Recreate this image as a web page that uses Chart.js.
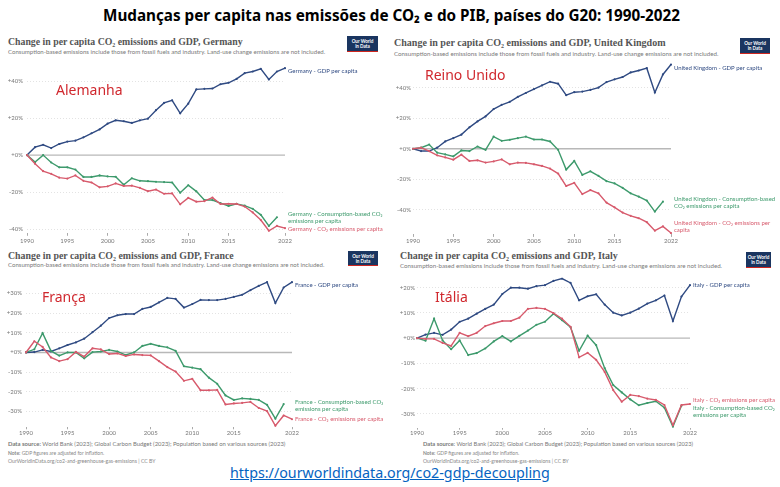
<!DOCTYPE html>
<html>
<head>
<meta charset="utf-8">
<script src="https://cdn.jsdelivr.net/npm/chart.js@4.4.1/dist/chart.umd.min.js"></script>
<style>
  body { margin: 0; background: #fff; }
  #wrap { position: relative; width: 780px; height: 487px; overflow: hidden; background: #fff; }
  .abs { position: absolute; white-space: nowrap; line-height: 1; }
  .main { font-family: "Noto Sans", sans-serif; font-weight: bold; font-size: 18px; color: #000; }
  .ptitle { font-family: "Liberation Serif", serif; font-weight: bold; font-size: 10px; color: #555; }
  .psub { font-family: Lato, sans-serif; font-size: 6px; color: #7a7a7a; }
  .logo { background: #1a3560; color: #fff; font-family: Lato, sans-serif; font-weight: bold;
          font-size: 4.6px; text-align: center; line-height: 1.1; border-bottom: 1.5px solid #ce261e;
          box-sizing: border-box; padding-top: 3px; }
  .country { font-family: "Noto Sans", sans-serif; font-size: 14px; color: #d0282e; }
  .src { font-family: Lato, sans-serif; font-size: 5.8px; color: #777; }
  .note { font-family: Lato, sans-serif; font-size: 5px; color: #888; }
  .url { font-family: "Noto Sans", sans-serif; font-size: 15px; color: #0563c1; text-decoration: underline; }
  canvas { position: absolute; }
</style>
</head>
<body>
<div id="wrap">
  <div class="abs main" id="mainTitle" style="left:103px; top:8px;">Mudanças per capita nas emissões de CO₂ e do PIB, países do G20: 1990-2022</div>

  <div class="abs ptitle" data-w="235" style="left:8px; top:37px;">Change in per capita CO₂ emissions and GDP, Germany</div>
  <div class="abs psub" data-w="318" style="left:8px; top:49px;">Consumption-based emissions include those from fossil fuels and industry. Land-use change emissions are not included.</div>
  <div class="abs logo" style="left:347px; top:36px; width:31px; height:16px;">Our World<br>in Data</div>

  <div class="abs ptitle" data-w="272" style="left:394px; top:38px;">Change in per capita CO₂ emissions and GDP, United Kingdom</div>
  <div class="abs psub" data-w="325" style="left:394px; top:51px;">Consumption-based emissions include those from fossil fuels and industry. Land-use change emissions are not included.</div>
  <div class="abs logo" style="left:740px; top:38px; width:30px; height:16px;">Our World<br>in Data</div>

  <div class="abs ptitle" data-w="226" style="left:8px; top:251px;">Change in per capita CO₂ emissions and GDP, France</div>
  <div class="abs psub" data-w="317" style="left:8px; top:262px;">Consumption-based emissions include those from fossil fuels and industry. Land-use change emissions are not included.</div>
  <div class="abs logo" style="left:348px; top:251px; width:30px; height:15px;">Our World<br>in Data</div>

  <div class="abs ptitle" data-w="218" style="left:400px; top:251px;">Change in per capita CO₂ emissions and GDP, Italy</div>
  <div class="abs psub" data-w="323" style="left:400px; top:263px;">Consumption-based emissions include those from fossil fuels and industry. Land-use change emissions are not included.</div>
  <div class="abs logo" style="left:746px; top:252px; width:25px; height:16px;">Our World<br>in Data</div>

  <canvas id="de" width="388" height="195" style="left:0px; top:55px;"></canvas>
  <canvas id="uk" width="390" height="195" style="left:390px; top:55px;"></canvas>
  <canvas id="fr" width="388" height="166" style="left:0px; top:272px;"></canvas>
  <canvas id="it" width="390" height="166" style="left:390px; top:272px;"></canvas>

  <div class="abs country" style="left:56px; top:83px;">Alemanha</div>
  <div class="abs country" style="left:425px; top:68px;">Reino Unido</div>
  <div class="abs country" style="left:42px; top:290px;">França</div>
  <div class="abs country" style="left:435px; top:290px;">Itália</div>

  <div class="abs src" data-w="278" style="left:8px; top:441px;"><b>Data source:</b> World Bank (2023); Global Carbon Budget (2023); Population based on various sources (2023)</div>
  <div class="abs note" style="left:8px; top:451px;"><b>Note:</b> GDP figures are adjusted for inflation.</div>
  <div class="abs note" data-w="148" style="left:8px; top:459px;">OurWorldInData.org/co2-and-greenhouse-gas-emissions | CC BY</div>

  <div class="abs src" data-w="270" style="left:423px; top:441px;"><b>Data source:</b> World Bank (2023); Global Carbon Budget (2023); Population based on various sources (2023)</div>
  <div class="abs note" style="left:423px; top:451px;"><b>Note:</b> GDP figures are adjusted for inflation.</div>
  <div class="abs note" data-w="146" style="left:423px; top:459px;">OurWorldInData.org/co2-and-greenhouse-gas-emissions | CC BY</div>

  <div class="abs url" id="url" style="left:230px; top:466px;">https://ourworldindata.org/co2-gdp-decoupling</div>
</div>

<script>
// years shared by all four panels
const years = [1990, 1991, 1992, 1993, 1994, 1995, 1996, 1997, 1998, 1999,
               2000, 2001, 2002, 2003, 2004, 2005, 2006, 2007, 2008, 2009,
               2010, 2011, 2012, 2013, 2014, 2015, 2016, 2017, 2018, 2019,
               2020, 2021, 2022];
const yearTicks = [1990, 1995, 2000, 2005, 2010, 2015, 2022];

// % change since 1990
const deGdp  = [0, 4.3, 5.6, 3.8, 6.0, 7.3, 7.8, 9.6, 11.8, 13.9, 17.0, 18.8, 18.3, 17.4, 18.8, 19.7, 24.3, 28.2, 29.6, 22.6, 27.8, 35.5, 35.8, 36.0, 38.3, 39.1, 41.2, 44.3, 45.2, 46.6, 40.9, 45.2, 47.0];
const deCons = [0, -3.8, 0, -4.0, -6.6, -6.6, -7.8, -11.8, -11.8, -11.0, -11.5, -11.7, -16.0, -12.5, -13.9, -14.1, -14.4, -14.6, -14.8, -20.3, -16.3, -19.6, -24.3, -24.3, -26.0, -27.5, -26.4, -27.3, -29.0, -32.3, -38.3, -33.6, null];
const deCo2  = [0, -4.7, -8.7, -10.1, -12.2, -12.7, -11.0, -13.9, -14.8, -17.4, -16.9, -15.3, -16.7, -16.5, -17.7, -19.5, -18.6, -20.9, -20.7, -26.6, -23.1, -25.2, -24.9, -23.0, -26.4, -26.3, -26.4, -27.8, -31.0, -35.1, -40.9, -38.3, -39.5];

const ukGdp  = [0, -1.5, -1.5, 0.7, 4.8, 7.0, 9.3, 14.1, 18.0, 21.3, 26.1, 28.9, 30.9, 34.1, 36.7, 39.3, 41.7, 44.1, 42.8, 35.2, 37.2, 37.6, 38.7, 40.2, 43.9, 45.7, 47.2, 50.2, 51.5, 53.0, 37.0, 48.9, 55.4];
const ukCons = [0, 0.7, 2.8, -2.6, -3.7, -5.0, -1.1, -1.5, 1.5, -0.7, 8.0, 5.2, 5.9, 7.0, 8.0, 6.1, 6.1, 4.8, -0.7, -13.7, -8.0, -17.2, -14.8, -17.8, -21.3, -22.8, -25.7, -29.3, -31.5, -34.1, -41.3, -34.8, null];
const ukCo2  = [0, 0.7, -1.5, -4.3, -5.7, -7.2, -3.9, -8.0, -7.6, -9.1, -8.3, -7.0, -10.2, -9.1, -9.3, -10.2, -11.3, -13.0, -16.3, -24.5, -22.4, -29.8, -27.2, -29.3, -35.4, -38.5, -42.0, -44.1, -45.7, -48.3, -53.9, -51.1, -55.4];

const frGdp  = [0, 0.2, 1.3, 0.5, 2.1, 3.8, 5.1, 7.0, 10.3, 13.6, 17.5, 18.9, 19.5, 19.5, 22.1, 23.1, 25.4, 27.7, 27.2, 22.8, 24.6, 26.7, 26.6, 26.6, 27.2, 28.2, 29.3, 31.6, 33.8, 35.7, 25.1, 33.0, 35.7];
const frCons = [0, 1.6, 9.8, 0.8, -1.6, 0, 0, -3.0, 0.2, 0.5, 1.3, 0.5, -1.3, 0, 3.3, 4.4, 3.3, 2.6, 0.8, -7.0, -7.7, -8.5, -12.8, -15.9, -21.8, -24.1, -23.3, -23.6, -24.1, -26.6, -33.6, -26.2, null];
const frCo2  = [0, 5.7, 2.8, -2.5, -4.4, -3.4, 0.3, -2.1, 2.1, 1.6, -0.8, -0.5, -1.8, -1.0, -1.3, -1.5, -4.4, -7.4, -9.7, -14.4, -13.4, -19.2, -19.2, -19.0, -26.4, -25.9, -25.6, -25.1, -28.2, -29.8, -37.2, -32.0, -33.9];

const itGdp  = [0, 1.4, 2.1, 1.3, 3.4, 6.5, 7.7, 9.7, 11.6, 13.3, 17.5, 20.0, 20.0, 19.6, 20.6, 21.0, 22.7, 23.6, 21.9, 15.0, 16.6, 17.4, 13.3, 10.1, 9.0, 10.1, 11.7, 13.7, 15.0, 16.9, 6.8, 16.5, 21.0];
const itCons = [0, -1.0, 7.7, -0.9, -4.4, -0.9, -6.7, -5.9, -4.1, -1.3, 0.8, -1.3, 0.9, 3.0, 5.3, 6.5, 9.7, 7.1, 4.3, -5.0, 1.0, -2.8, -11.9, -18.6, -21.5, -24.3, -26.6, -25.7, -25.0, -27.6, -35.1, -26.8, null];
const itCo2  = [0, -0.3, -0.3, -1.9, -3.1, 2.1, 0.8, 2.1, 4.8, 5.9, 6.8, 6.8, 8.1, 11.6, 12.0, 11.6, 9.9, 7.7, 4.5, -7.6, -5.8, -8.6, -13.4, -20.6, -25.2, -22.5, -23.0, -24.0, -24.5, -26.5, -34.5, -26.5, -26.1];

const ticks20 = [-40, -20, 0, 20, 40];
const ticksUk = [-40, -20, 0, 20, 40];
const ticksFr = [-30, -20, -10, 0, 10, 20, 30];
const ticksIt = [-30, -20, -10, 0, 10, 20];

const BLUE = '#2f4a82';
const GREEN = '#3d9a6c';
const RED = '#d75a6c';

// zero line drawn solid over the dotted grid
const zeroLine = {
    id: 'zeroLine',
    beforeDatasetsDraw(chart) {
        const { ctx, chartArea, scales } = chart;
        const y = scales.y.getPixelForValue(0);
        ctx.save();
        ctx.strokeStyle = '#b8b8b8';
        ctx.lineWidth = 1.4;
        ctx.beginPath();
        ctx.moveTo(chartArea.left, y);
        ctx.lineTo(chartArea.right, y);
        ctx.stroke();
        ctx.restore();
    }
};

// series names written at the end of each line
const endLabels = {
    id: 'endLabels',
    afterDatasetsDraw(chart) {
        const { ctx, chartArea } = chart;
        ctx.save();
        ctx.font = '6px Lato';
        ctx.textBaseline = 'middle';
        chart.data.datasets.forEach((ds, i) => {
            const meta = chart.getDatasetMeta(i);
            let last = null;
            meta.data.forEach((pt, j) => { if (ds.data[j] !== null) last = pt; });
            if (!last) return;
            ctx.fillStyle = ds.borderColor;
            ds.endLabel.forEach((line, k) => {
                ctx.fillText(line, chartArea.right + 3, last.y + ds.labelDy + k * 7);
            });
        });
        ctx.restore();
    }
};

function series(data, color, endLabel, labelDy) {
    return {
        data: data,
        borderColor: color,
        backgroundColor: color,
        borderWidth: 1.4,
        pointRadius: 1.1,
        pointHoverRadius: 1.1,
        pointBorderWidth: 0,
        tension: 0,
        spanGaps: false,
        endLabel: endLabel,
        labelDy: labelDy
    };
}

function makeChart(id, opts) {
    const ctx = document.getElementById(id).getContext('2d');
    return new Chart(ctx, {
        type: 'line',
        data: { labels: years, datasets: opts.datasets },
        options: {
            responsive: false,
            animation: false,
            devicePixelRatio: 1,
            layout: { padding: { top: opts.padTop, right: opts.padRight, left: 0, bottom: 0 } },
            plugins: { legend: { display: false }, tooltip: { enabled: false } },
            scales: {
                x: {
                    offset: false,
                    border: { display: false },
                    grid: {
                        drawOnChartArea: false,
                        drawTicks: true,
                        tickLength: opts.tickLen,
                        tickColor: c => yearTicks.includes(years[c.index]) ? '#aaa' : 'rgba(0,0,0,0)'
                    },
                    ticks: {
                        autoSkip: false,
                        maxRotation: 0,
                        padding: opts.xPad,
                        color: '#777',
                        font: { family: 'Lato', size: 6 },
                        callback: (v, i) => yearTicks.includes(years[i]) ? String(years[i]) : ''
                    },
                    afterFit: s => { s.height = opts.xHeight; }
                },
                y: {
                    min: opts.min,
                    max: opts.max,
                    border: { display: false, dash: [1, 2] },
                    grid: {
                        drawTicks: false,
                        color: c => c.tick && c.tick.value === 0 ? 'rgba(0,0,0,0)' : '#dcdcdc',
                        lineWidth: 0.8
                    },
                    ticks: {
                        padding: opts.yPad,
                        color: '#777',
                        font: { family: 'Lato', size: 6 },
                        callback: v => (v >= 0 ? '+' : '') + v + '%'
                    },
                    afterBuildTicks: s => { s.ticks = opts.ticks.map(v => ({ value: v })); },
                    afterFit: s => { s.width = opts.yWidth; }
                }
            }
        },
        plugins: [zeroLine, endLabels]
    });
}

makeChart('de', {
    min: -42, max: 50, ticks: ticks20,
    padTop: 3, padRight: 103, yWidth: 27, yPad: 4, xHeight: 17.2, tickLen: 3, xPad: 2,
    datasets: [
        series(deCo2, RED, ['Germany - CO₂ emissions per capita'], 1),
        series(deCons, GREEN, ['Germany - Consumption-based CO₂', 'emissions per capita'], -3),
        series(deGdp, BLUE, ['Germany - GDP per capita'], 3)
    ]
});

makeChart('uk', {
    min: -56, max: 58, ticks: ticksUk,
    padTop: 4.1, padRight: 109, yWidth: 23, yPad: 2, xHeight: 16.1, tickLen: 3, xPad: 1,
    datasets: [
        series(ukCo2, RED, ['United Kingdom - CO₂ emissions per', 'capita'], -10),
        series(ukCons, GREEN, ['United Kingdom - Consumption-based', 'CO₂ emissions per capita'], -3),
        series(ukGdp, BLUE, ['United Kingdom - GDP per capita'], 4)
    ]
});

makeChart('fr', {
    min: -38, max: 37, ticks: ticksFr,
    padTop: 2.8, padRight: 96, yWidth: 26, yPad: 4, xHeight: 10.7, tickLen: 2, xPad: 0,
    datasets: [
        series(frCo2, RED, ['France - CO₂ emissions per capita'], 0),
        series(frCons, GREEN, ['France - Consumption-based CO₂', 'emissions per capita'], -2),
        series(frGdp, BLUE, ['France - GDP per capita'], 3)
    ]
});

makeChart('it', {
    min: -35.5, max: 24, ticks: ticksIt,
    padTop: 2, padRight: 90, yWidth: 27, yPad: 2, xHeight: 10.3, tickLen: 2, xPad: 0,
    datasets: [
        series(itCo2, RED, ['Italy - CO₂ emissions per capita'], -4),
        series(itCons, GREEN, ['Italy - Consumption-based CO₂', 'emissions per capita'], 2),
        series(itGdp, BLUE, ['Italy - GDP per capita'], 0)
    ]
});

// stretch the texts to the widths seen in the picture
function fitWidth(el, target) {
    const w = el.getBoundingClientRect().width;
    const size = parseFloat(getComputedStyle(el).fontSize);
    el.style.fontSize = (size * target / w) + 'px';
}
fitWidth(document.getElementById('mainTitle'), 577);
fitWidth(document.getElementById('url'), 320);
document.querySelectorAll('[data-w]').forEach(el => fitWidth(el, parseFloat(el.dataset.w)));
</script>
</body>
</html>
